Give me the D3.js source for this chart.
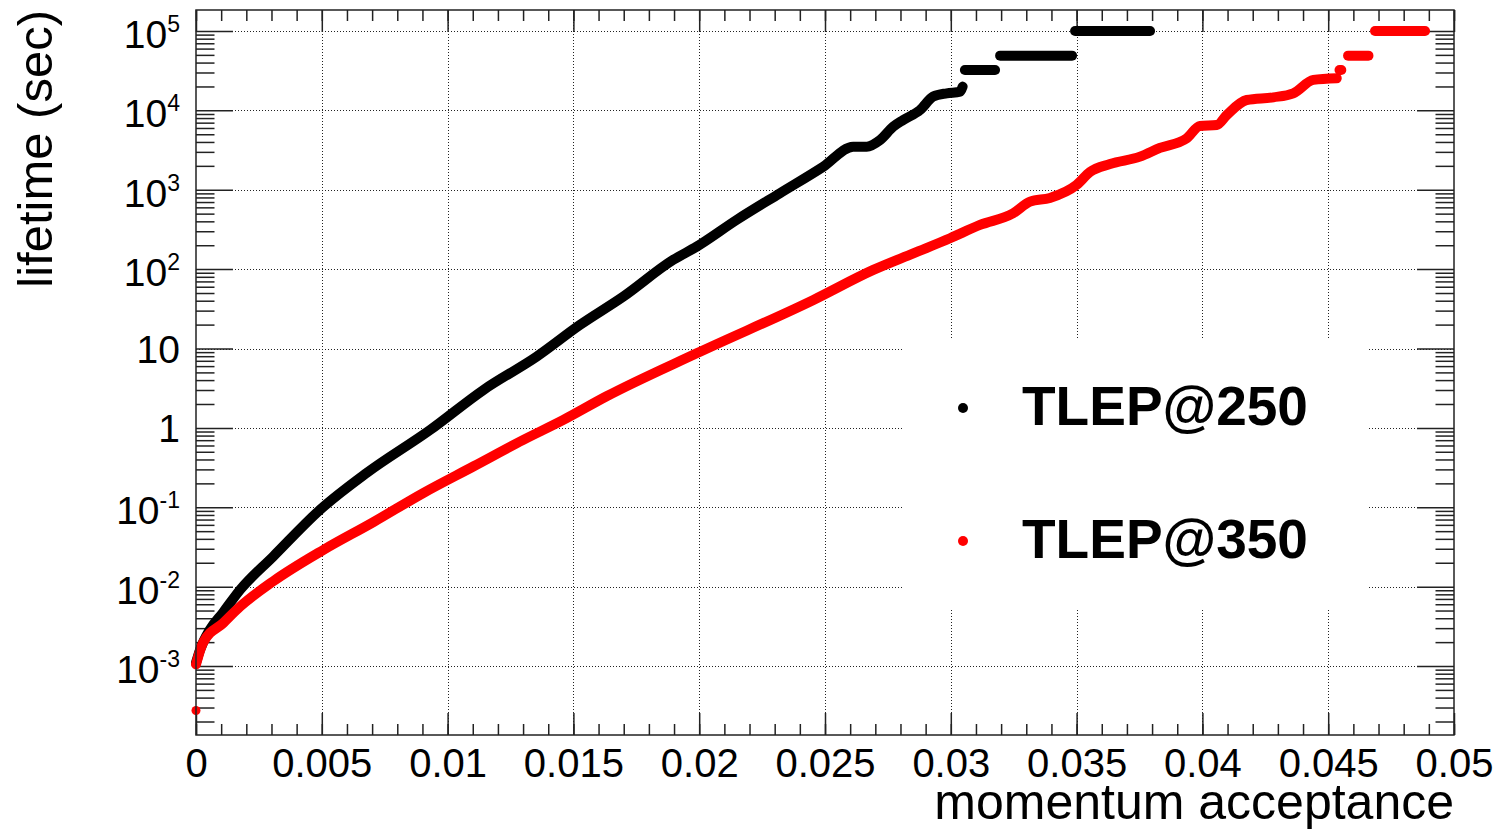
<!DOCTYPE html>
<html>
<head>
<meta charset="utf-8">
<script src="https://cdn.jsdelivr.net/npm/d3@7"></script>
<style>
  body { margin: 0; background: #fff; }
  svg { display: block; }
</style>
</head>
<body>
<div id="chart"></div>
<script>
// lifetime vs momentum acceptance, log y, ROOT-like frame

const seriesNames = ["TLEP@250", "TLEP@350"];
const seriesColors = ["#000000", "#ff0000"];

// [momentum acceptance, lifetime in sec]
const tlep250 = [
  [0.00000, 1.1e-3], [0.00016, 1.6e-3], [0.00056, 2.9e-3], [0.00107, 4.7e-3],
  [0.00175, 9.1e-3], [0.00307, 0.024], [0.00493, 0.093], [0.00678, 0.27],
  [0.00930, 0.94], [0.01142, 3.0], [0.01354, 7.9], [0.01526, 19.8],
  [0.01698, 45], [0.01897, 131], [0.01990, 192], [0.02149, 417],
  [0.02321, 904], [0.02493, 1950], [0.02612, 3490], [0.02666, 3490],
  [0.02719, 4240], [0.02771, 6230], [0.02811, 7570], [0.02878, 10100],
  [0.02930, 14900], [0.02984, 16400], [0.03037, 17200], [0.03047, 19900]
];
// flat runs at the top: [from, to, lifetime]
const tlep250Steps = [
  [0.03056, 0.03176, 32300],
  [0.03196, 0.03482, 48900],
  [0.03494, 0.03792, 100000]
];

const tlep350 = [
  [0.00000, 1.05e-3], [0.00009, 1.32e-3], [0.00028, 1.96e-3], [0.00109, 3.5e-3],
  [0.00175, 5.6e-3], [0.00307, 0.0117], [0.00506, 0.029], [0.00705, 0.065],
  [0.00903, 0.151], [0.01102, 0.326], [0.01301, 0.706], [0.01460, 1.26],
  [0.01632, 2.5], [0.01990, 8.7], [0.02454, 40.9], [0.02692, 97.7],
  [0.02851, 158], [0.02997, 245], [0.03116, 360], [0.03248, 506],
  [0.03315, 708], [0.03394, 789], [0.03500, 1150], [0.03553, 1675],
  [0.03633, 2110], [0.03752, 2610], [0.03831, 3360], [0.03938, 4460],
  [0.03990, 6360], [0.04057, 6540], [0.04097, 8750], [0.04176, 13500],
  [0.04282, 14600], [0.04361, 16400], [0.04441, 24200], [0.04534, 25400]
];
const tlep350Steps = [
  [0.04545, 0.04552, 32300],
  [0.04579, 0.04660, 48900],
  [0.04686, 0.04885, 100000]
];
const tlep350Lone = [[0.00000, 2.75e-4]];

const xDomain = [0, 0.05];
const yDomain = [1.352e-4, 1.838e5];
const xMajorTicks = [0, 0.005, 0.01, 0.015, 0.02, 0.025, 0.03, 0.035, 0.04, 0.045, 0.05];
const xTickLabels = ["0", "0.005", "0.01", "0.015", "0.02", "0.025", "0.03", "0.035", "0.04", "0.045", "0.05"];
const yMajorTicks = [1e-3, 1e-2, 1e-1, 1, 10, 1e2, 1e3, 1e4, 1e5];
const yTickBases = ["10", "10", "10", "1", "10", "10", "10", "10", "10"];
const yTickExps = ["-3", "-2", "-1", "", "", "2", "3", "4", "5"];

const width = 1503;
const height = 830;
const frameLeft = 196, frameRight = 1454, frameTop = 10, frameBottom = 735;
const font = "'Liberation Sans', Arial, sans-serif";
const axisColor = "#222";

const x = d3.scaleLinear().domain(xDomain).range([frameLeft, frameRight]);
const y = d3.scaleLog().domain(yDomain).range([frameBottom, frameTop]);

const xMinorTicks = d3.range(0, 51).map(i => i / 1000);
const yMinorTicks = [];
for (let e = -4; e <= 5; e++) {
  for (let m = 2; m <= 9; m++) {
    const v = m * Math.pow(10, e);
    if (v > yDomain[0] && v < yDomain[1]) yMinorTicks.push(v);
  }
}

const svg = d3.create("svg")
    .attr("width", width)
    .attr("height", height)
    .attr("viewBox", [0, 0, width, height])
    .style("font-family", font);

svg.append("rect").attr("width", width).attr("height", height).attr("fill", "#fff");

// dotted grid
const grid = svg.append("g")
    .attr("stroke", "#222")
    .attr("stroke-width", 1)
    .attr("stroke-dasharray", "1,2");
grid.selectAll(".gx")
  .data(xMajorTicks.slice(1, -1))
  .join("line")
    .attr("x1", d => Math.round(x(d)) + 0.5)
    .attr("x2", d => Math.round(x(d)) + 0.5)
    .attr("y1", frameTop)
    .attr("y2", frameBottom);
grid.selectAll(".gy")
  .data(yMajorTicks)
  .join("line")
    .attr("y1", d => Math.round(y(d)) + 0.5)
    .attr("y2", d => Math.round(y(d)) + 0.5)
    .attr("x1", frameLeft)
    .attr("x2", frameRight);

// ticks, bottom/top and left/right, pointing inward
svg.append("g")
    .attr("transform", `translate(0,${frameBottom})`)
    .call(d3.axisBottom(x).tickValues(xMinorTicks).tickSize(-11).tickFormat(""))
    .call(g => g.select(".domain").remove());
svg.append("g")
    .attr("transform", `translate(0,${frameTop})`)
    .call(d3.axisTop(x).tickValues(xMinorTicks).tickSize(-11).tickFormat(""))
    .call(g => g.select(".domain").remove());
svg.append("g")
    .attr("transform", `translate(0,${frameBottom})`)
    .call(d3.axisBottom(x).tickValues(xMajorTicks).tickSize(-22)
        .tickFormat((d, i) => xTickLabels[i]))
    .call(g => g.select(".domain").remove())
    .call(g => g.selectAll("text")
        .attr("y", 42)
        .attr("dy", null)
        .attr("fill", "#000")
        .attr("font-size", 40)
        .attr("font-family", font));
svg.append("g")
    .attr("transform", `translate(0,${frameTop})`)
    .call(d3.axisTop(x).tickValues(xMajorTicks).tickSize(-22).tickFormat(""))
    .call(g => g.select(".domain").remove());

svg.append("g")
    .attr("transform", `translate(${frameLeft},0)`)
    .call(d3.axisLeft(y).tickValues(yMinorTicks).tickSize(-18.5).tickFormat(""))
    .call(g => g.select(".domain").remove());
svg.append("g")
    .attr("transform", `translate(${frameLeft},0)`)
    .call(d3.axisLeft(y).tickValues(yMajorTicks).tickSize(-37).tickFormat(""))
    .call(g => g.select(".domain").remove());
svg.append("g")
    .attr("transform", `translate(${frameRight},0)`)
    .call(d3.axisRight(y).tickValues(yMinorTicks).tickSize(-18.5).tickFormat(""))
    .call(g => g.select(".domain").remove());
svg.append("g")
    .attr("transform", `translate(${frameRight},0)`)
    .call(d3.axisRight(y).tickValues(yMajorTicks).tickSize(-37).tickFormat(""))
    .call(g => g.select(".domain").remove());

svg.selectAll(".tick line").attr("stroke", axisColor).attr("stroke-width", 1.5);

// y labels with superscripts
const yLabelData = yMajorTicks.map((v, i) => ({ v, base: yTickBases[i], exp: yTickExps[i] }));
const yLab = svg.append("g")
    .attr("font-size", 39)
    .attr("text-anchor", "end")
    .attr("fill", "#000")
  .selectAll("text")
  .data(yLabelData)
  .join("text")
    .attr("x", 180)
    .attr("y", d => y(d.v) + (d.exp ? 17 : 14));
yLab.append("tspan").text(d => d.base);
yLab.filter(d => d.exp !== "")
  .append("tspan")
    .attr("font-size", 23)
    .attr("dy", -16)
    .text(d => d.exp);

// curves: dense markers drawn as a thick round line
const line = d3.line()
    .curve(d3.curveMonotoneX)
    .x(d => x(d[0]))
    .y(d => y(d[1]));

const curves = [
  { pts: tlep250, steps: tlep250Steps, color: seriesColors[0] },
  { pts: tlep350, steps: tlep350Steps, color: seriesColors[1] }
];

curves.forEach(c => {
  const g = svg.append("g")
      .attr("fill", "none")
      .attr("stroke", c.color)
      .attr("stroke-width", 10)
      .attr("stroke-linecap", "round")
      .attr("stroke-linejoin", "round");
  g.append("path").datum(c.pts).attr("d", line);
  g.selectAll(".step")
    .data(c.steps)
    .join("path")
      .attr("d", d => line([[d[0], d[2]], [d[1], d[2]]]));
});

svg.append("g")
    .attr("fill", seriesColors[1])
  .selectAll("circle")
  .data(tlep350Lone)
  .join("circle")
    .attr("cx", d => x(d[0]))
    .attr("cy", d => y(d[1]))
    .attr("r", 4.5);

// frame
svg.append("rect")
    .attr("x", frameLeft)
    .attr("y", frameTop)
    .attr("width", frameRight - frameLeft)
    .attr("height", frameBottom - frameTop)
    .attr("fill", "none")
    .attr("stroke", axisColor)
    .attr("stroke-width", 1.5);

// legend
const legend = svg.append("g");
legend.append("rect")
    .attr("x", 904)
    .attr("y", 339)
    .attr("width", 463)
    .attr("height", 269)
    .attr("fill", "#fff");
const legendRows = [408, 541];
seriesNames.forEach((name, i) => {
  legend.append("circle")
      .attr("cx", 963)
      .attr("cy", legendRows[i])
      .attr("r", 5)
      .attr("fill", seriesColors[i]);
  legend.append("text")
      .attr("x", 1022)
      .attr("y", legendRows[i] + 17)
      .attr("font-size", 55)
      .attr("font-weight", "bold")
      .attr("fill", "#000")
      .text(name);
});

// axis titles
svg.append("text")
    .attr("x", frameRight)
    .attr("y", 819)
    .attr("text-anchor", "end")
    .attr("font-size", 50)
    .attr("fill", "#000")
    .text("momentum acceptance");

svg.append("text")
    .attr("transform", `translate(52,${frameTop}) rotate(-90)`)
    .attr("text-anchor", "end")
    .attr("font-size", 49)
    .attr("fill", "#000")
    .text("lifetime (sec)");

d3.select("#chart").node().append(svg.node());
</script>
</body>
</html>
